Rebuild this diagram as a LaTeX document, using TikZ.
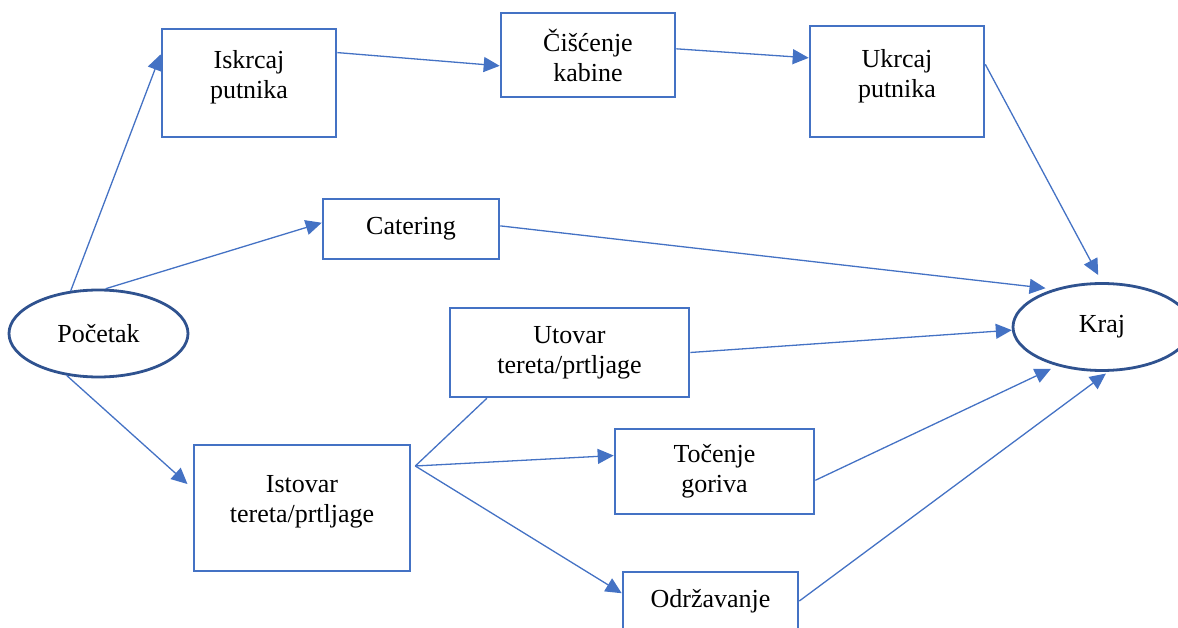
\documentclass[tikz,border=0pt]{standalone}
\usepackage{fontspec}
\setmainfont{Liberation Serif}
\usetikzlibrary{arrows.meta,calc,shapes.geometric}

\begin{document}
\begin{tikzpicture}[x=1pt, y=-1pt,
    okvir/.style={draw=okvirplava, line width=2.6pt, align=center, inner sep=0pt, font=\fontsize{26}{30}\selectfont},
    elipsa/.style={ellipse, draw=tamnoplava, line width=2.8pt, inner sep=0pt, font=\fontsize{26}{30}\selectfont},
    veza/.style={draw=okvirplava, line width=1.3pt, -{Triangle[length=16pt,width=15pt]}},
  ]

\definecolor{okvirplava}{RGB}{68, 114, 196}
\definecolor{tamnoplava}{RGB}{47, 82, 143}

\useasboundingbox (0,0) rectangle (1178,628);
\clip (0,0) rectangle (1178,628);

%start and end
\node[elipsa, minimum width=179, minimum height=87] (pocetak) at (98.5,333.5) {Početak};
\node[elipsa, minimum width=178, minimum height=87] (kraj) at (1102,327) {Kraj};

%passengers
\node[okvir, minimum width=174, minimum height=108, text depth=17.6pt] (iskrcaj) at (249,83) {Iskrcaj\\putnika};
\node[okvir, minimum width=174, minimum height=84] (ciscenje) at (588,55) {Čišćenje\\kabine};
\node[okvir, minimum width=174, minimum height=111, text depth=16.6pt] (ukrcaj) at (897,81.5) {Ukrcaj\\putnika};

\node[okvir, minimum width=176, minimum height=60] (catering) at (411,229) {Catering};

%cargo, fuel, maintenance
\node[okvir, minimum width=239, minimum height=89] (utovar) at (569.5,352.5) {Utovar\\tereta/prtljage};
\node[okvir, minimum width=216, minimum height=126, text depth=18.7pt] (istovar) at (302,508) {Istovar\\tereta/prtljage};
\node[okvir, minimum width=199, minimum height=85] (tocenje) at (714.5,471.5) {Točenje\\goriva};
\node[okvir, minimum width=175, minimum height=58] (odrzavanje) at (710.5,601) {Održavanje};

\coordinate (razvod) at ($(istovar.east)+(4,-42)$);

%connectors
\draw[veza] (pocetak.123) -- (iskrcaj.162);
\draw[veza] (pocetak.81) -- (catering.176);
\draw[veza, shorten >=7pt] (pocetak.-127) -- (istovar.170);

\draw[veza] (iskrcaj.19) -- (ciscenje.187);
\draw[veza] (ciscenje.4) -- (ukrcaj.165);
\draw[veza, shorten >=8pt] (ukrcaj.11) -- (kraj.north);

\draw[veza, shorten >=8pt] (catering.2) -- (kraj.142);
\draw[veza] (utovar.east) -- (kraj.182);
\draw[veza, shorten >=7pt] (tocenje.-5) -- (kraj.221);
\draw[veza, shorten >=3pt] (odrzavanje.east) -- (kraj.278);

\draw[draw=okvirplava, line width=1.3pt] (razvod) -- (utovar.209);
\draw[veza] (razvod) -- (tocenje.171);
\draw[veza] (razvod) -- (odrzavanje.175);

\end{tikzpicture}
\end{document}
